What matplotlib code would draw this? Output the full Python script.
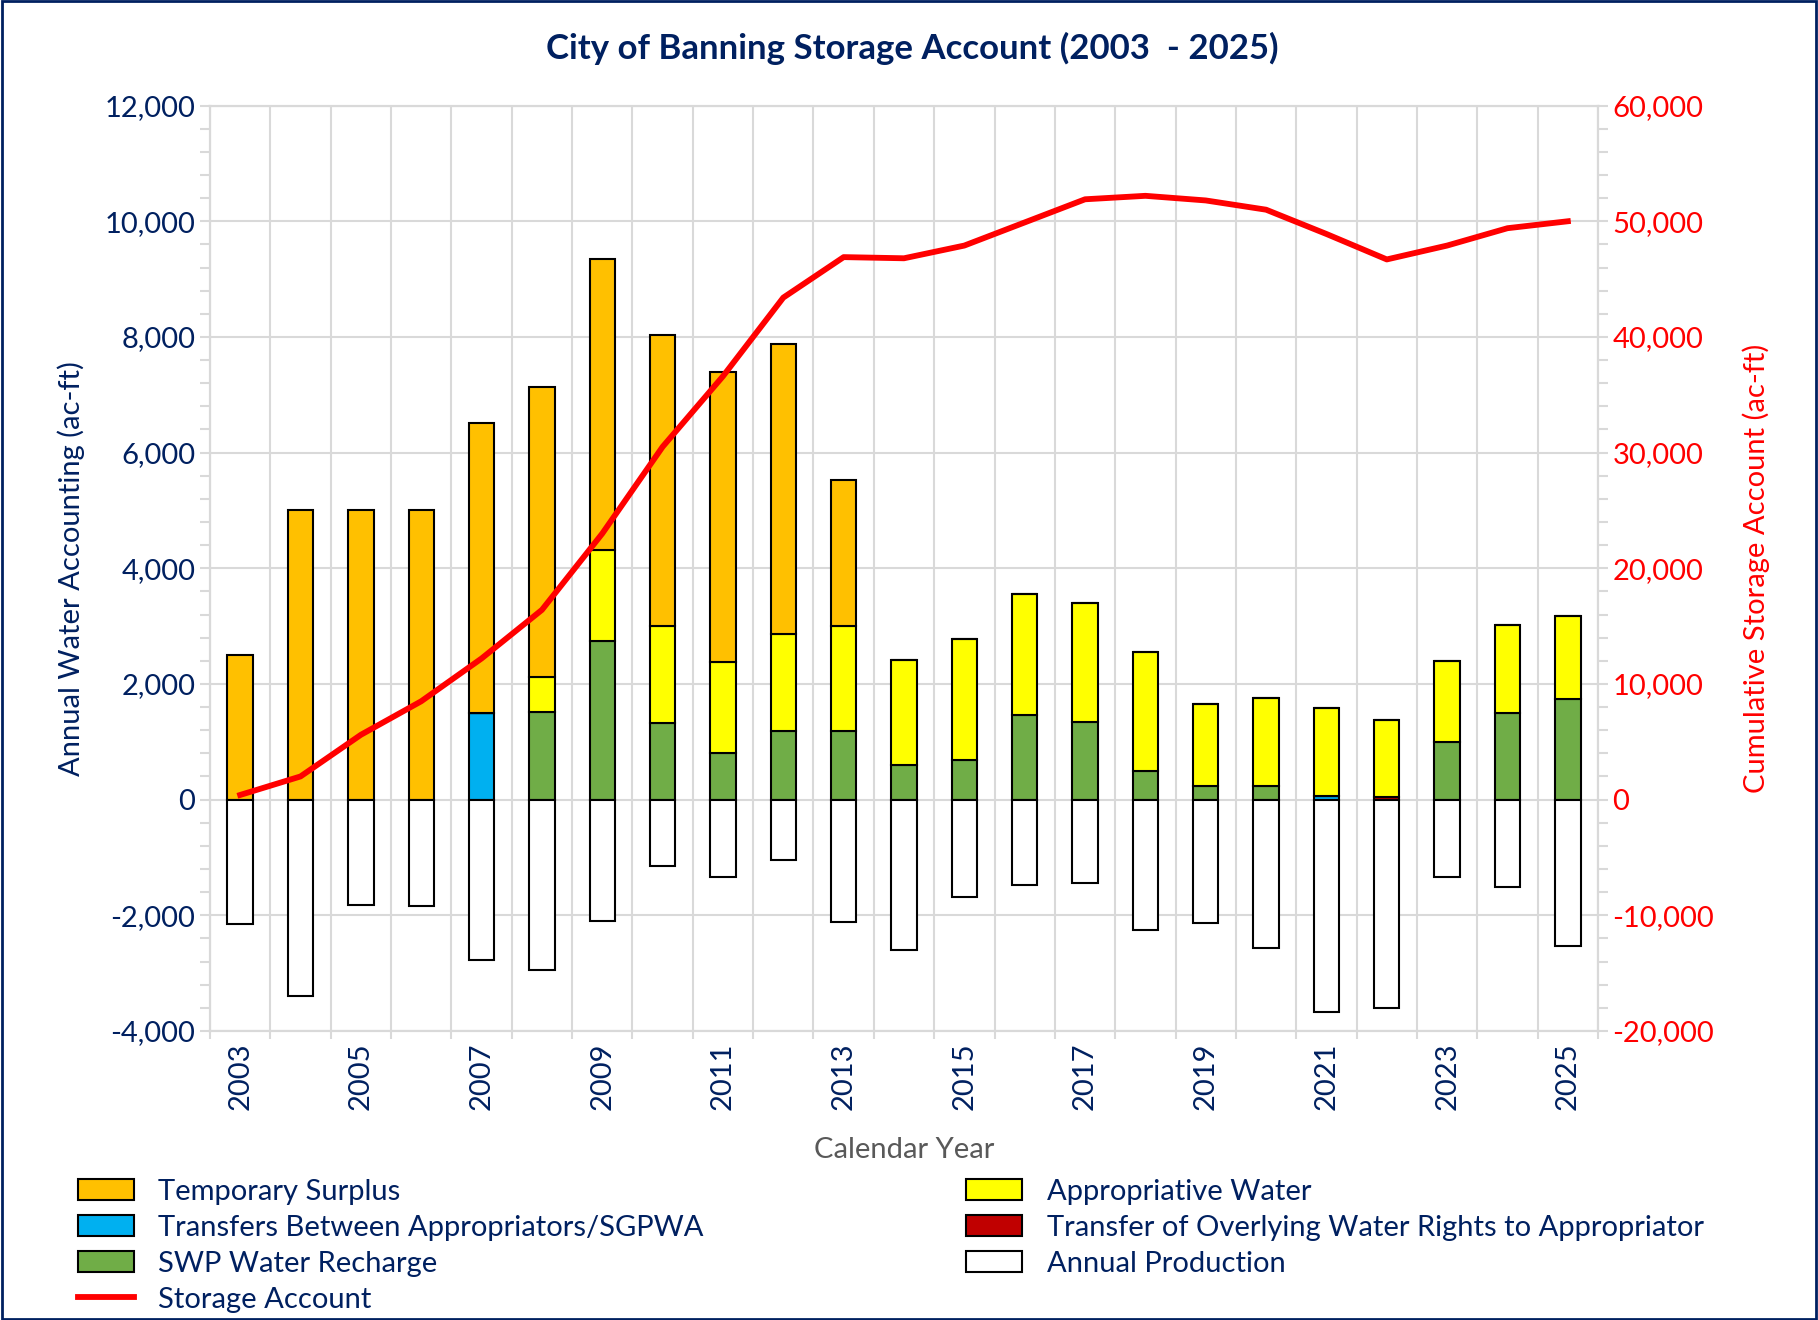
import numpy as np
import matplotlib
matplotlib.use("Agg")
import matplotlib.pyplot as plt
from matplotlib.ticker import FuncFormatter, MultipleLocator
from matplotlib.patches import Rectangle

plt.rcParams['font.family'] = ['Lato', 'DejaVu Sans']

years = list(range(2003, 2026))

# annual accounting (ac-ft)
transfers = [0, 0, 0, 0, 1500, 0, 0, 0, 0, 0, 0, 0, 0, 0, 0, 0, 0, 0, 60, 0, 0, 0, 0]
overlying = [0, 0, 0, 0, 0, 0, 0, 0, 0, 0, 0, 0, 0, 0, 0, 0, 0, 0, 0, 40, 0, 0, 0]
swp = [0, 0, 0, 0, 0, 1520, 2740, 1320, 800, 1180, 1180, 600, 680, 1460, 1340, 500, 240, 240, 0, 0, 1000, 1500, 1740]
appropriative = [0, 0, 0, 0, 0, 600, 1580, 1680, 1580, 1680, 1820, 1820, 2100, 2100, 2060, 2060, 1420, 1520, 1530, 1330, 1400, 1520, 1440]
surplus = [2500, 5000, 5000, 5000, 5020, 5020, 5020, 5040, 5020, 5020, 2520, 0, 0, 0, 0, 0, 0, 0, 0, 0, 0, 0, 0]
production = [-2150, -3400, -1820, -1840, -2780, -2940, -2100, -1140, -1340, -1040, -2120, -2600, -1680, -1480, -1440, -2260, -2140, -2560, -3670, -3600, -1340, -1520, -2540]

# cumulative storage account (ac-ft)
storage = [400, 2000, 5600, 8500, 12200, 16400, 23000, 30500, 36600, 43400, 46900, 46800, 47900, 49900, 51900, 52200, 51800, 51000, 48900, 46700, 47900, 49400, 50000]

navy = '#002060'
grid_c = '#D9D9D9'
fs = 21

fig = plt.figure(figsize=(18.18, 13.2), dpi=100)
ax = fig.add_axes([0.1155, 0.219, 0.7635, 0.701])

x = np.arange(len(years))
w = 0.42
series = [
    (transfers, '#00B0F0', 'Transfers Between Appropriators/SGPWA'),
    (overlying, '#C00000', 'Transfer of Overlying Water Rights to Appropriator'),
    (swp, '#70AD47', 'SWP Water Recharge'),
    (appropriative, '#FFFF00', 'Appropriative Water'),
    (surplus, '#FFC000', 'Temporary Surplus'),
]
bottom = np.zeros(len(years))
handles = {}
for vals, col, name in series:
    vals = np.array(vals, dtype=float)
    b = ax.bar(x, vals, w, bottom=bottom, color=col, edgecolor='black', linewidth=1.5, zorder=3, label=name)
    handles[name] = b
    bottom = bottom + vals
b = ax.bar(x, production, w, color='white', edgecolor='black', linewidth=1.5, zorder=3, label='Annual Production')
handles['Annual Production'] = b

ax.set_xlim(-0.5, len(years) - 0.5)
ax.set_ylim(-4000, 12000)
ax.yaxis.set_major_locator(MultipleLocator(2000))
ax.yaxis.set_minor_locator(MultipleLocator(400))
ax.yaxis.set_major_formatter(FuncFormatter(lambda v, p: f"{v:,.0f}"))
ax.set_xticks(x[::2])
ax.set_xticklabels([str(y) for y in years[::2]], rotation=90)
ax.set_xticks(np.arange(-0.5, len(years)), minor=True)
ax.grid(True, axis='y', which='major', color=grid_c, linewidth=1.5, zorder=0)
ax.grid(True, axis='x', which='minor', color=grid_c, linewidth=1.5, zorder=0)
ax.tick_params(axis='x', which='major', length=0, labelsize=fs, labelcolor=navy, pad=8)
ax.tick_params(axis='x', which='minor', length=6, color=grid_c, width=1.5)
ax.tick_params(axis='y', which='both', color=grid_c, width=1.5, length=7, labelsize=fs, labelcolor=navy)
for s in ax.spines.values():
    s.set_color(grid_c)
    s.set_linewidth(1.5)
ax.set_ylabel('Annual Water Accounting (ac-ft)', color=navy, fontsize=fs, labelpad=14)
ax.set_xlabel('Calendar Year', color='#595959', fontsize=fs, labelpad=20)

ax2 = ax.twinx()
line, = ax2.plot(x, storage, color='#FF0000', linewidth=4.2, zorder=5, label='Storage Account')
ax2.set_ylim(-20000, 60000)
ax2.yaxis.set_major_locator(MultipleLocator(10000))
ax2.yaxis.set_minor_locator(MultipleLocator(2000))
ax2.yaxis.set_major_formatter(FuncFormatter(lambda v, p: f"{v:,.0f}"))
ax2.tick_params(axis='y', which='both', color=grid_c, width=1.5, length=7, labelsize=fs, labelcolor='#FF0000')
for s in ax2.spines.values():
    s.set_color(grid_c)
    s.set_linewidth(1.5)
ax2.set_ylabel('Cumulative Storage Account (ac-ft)', color='#FF0000', fontsize=fs, labelpad=20)

fig.suptitle('City of Banning Storage Account (2003  - 2025)', x=0.502, y=0.976,
             fontsize=25, fontweight='bold', color=navy)

order = ['Temporary Surplus', 'Transfers Between Appropriators/SGPWA', 'SWP Water Recharge',
         'Appropriative Water', 'Transfer of Overlying Water Rights to Appropriator', 'Annual Production']
hl = [handles[n] for n in order[:3]] + [line] + [handles[n] for n in order[3:]]
ll = order[:3] + ['Storage Account'] + order[3:]
leg = fig.legend(hl, ll, loc='upper left', bbox_to_anchor=(0.043, 0.107), ncol=2, frameon=False,
                 fontsize=fs, handlelength=1.9, handleheight=0.75, labelspacing=0.34,
                 columnspacing=9.0, handletextpad=0.85, borderpad=0, borderaxespad=0)
for t in leg.get_texts():
    t.set_color(navy)

fig.add_artist(Rectangle((0.001, 0.001), 0.998, 0.998, transform=fig.transFigure,
                         fill=False, edgecolor=navy, linewidth=2))

fig.savefig('out.png', dpi=100)
